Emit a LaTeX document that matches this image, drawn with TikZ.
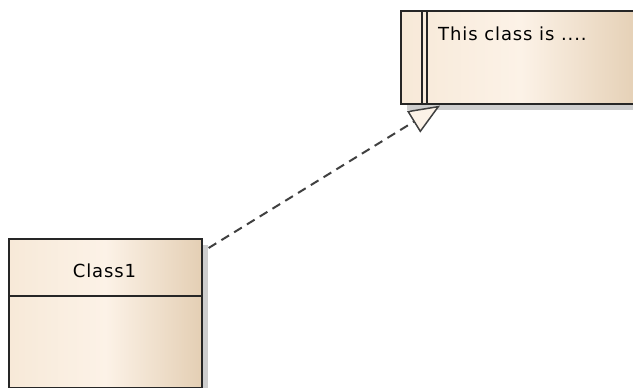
\documentclass[tikz,border=0pt]{standalone}
\usepackage{fontspec}
\newfontfamily\umlfont[LetterSpace=5]{DejaVu Sans}
\usetikzlibrary{arrows.meta,shadows}

\definecolor{umldark}{HTML}{262626}
\definecolor{creamleft}{HTML}{F7E9D8}
\definecolor{creammid}{HTML}{FCF2E7}
\definecolor{creamright}{HTML}{E4CFB4}

\tikzset{
  umlbox/.style={draw=umldark, line width=1.6pt, inner sep=0pt,
    left color=creamleft, right color=creamright, middle color=creammid,
    drop shadow={shadow xshift=6pt, shadow yshift=-6pt, fill=black!38}},
  umltext/.style={font=\umlfont\fontsize{18}{20}\selectfont, text=black, inner sep=0pt},
  realize/.style={draw=black!75, line width=2pt, dash pattern=on 9pt off 6pt,
    -{Triangle[length=31pt, width=25pt, fill=creammid, line width=1.5pt]}}
}

\begin{document}
\begin{tikzpicture}[x=1pt, y=-1pt]
\useasboundingbox (0,0) rectangle (633,388);

% class with its empty compartment
\node[umlbox, anchor=north west, minimum width=193pt, minimum height=149pt] (class1) at (8,238) {};
\draw[umldark, line width=1.6pt] (class1.west |- 0,296) -- (class1.east |- 0,296);
\node[umltext] (class1name) at (104.5,271) {Class1};

% note
\node[umlbox, anchor=north west, minimum width=240pt, minimum height=93pt] (note) at (400,10) {};
\draw[umldark, line width=1.6pt] ([xshift=22pt]note.north west) -- ([xshift=22pt]note.south west);
\draw[umldark, line width=1.6pt] ([xshift=27pt]note.north west) -- ([xshift=27pt]note.south west);
\node[umltext, anchor=base west] (notetext) at (438,41) {This class is ....};

% realization
\draw[realize] ([shift={(6,10)}]class1.north east) -- ([shift={(40,1)}]note.south west);

\end{tikzpicture}
\end{document}
